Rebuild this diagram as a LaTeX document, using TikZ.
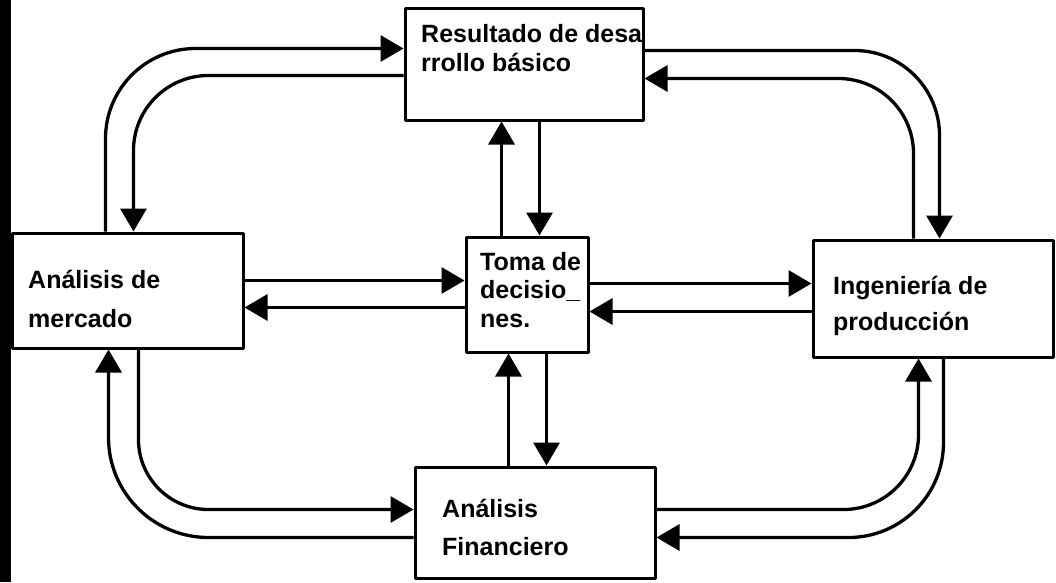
\documentclass[tikz,border=0pt]{standalone}
\usepackage{fontspec}
\setmainfont{Liberation Sans}
\usetikzlibrary{arrows.meta, positioning, calc}

\begin{document}
\begin{tikzpicture}[
  x=1pt, y=1pt,
  box/.style={draw, line width=3pt, inner sep=0pt},
  txt/.style={font=\fontsize{25}{#1}\selectfont\bfseries, align=left, anchor=base west, inner sep=0pt},
  txt/.default=30,
  flow/.style={line width=3.3pt, -{Triangle[length=23pt, width=26pt]}},
  line join=round
]
\useasboundingbox (0,0) rectangle (1056,-582);
\fill (0,0) rectangle (11,-582);

% cajas
\node[box, minimum width=238, minimum height=112] (res) at (524,-64) {};
\node[box, minimum width=231, minimum height=115] (mer) at (127.5,-290.5) {};
\node[box, minimum width=122, minimum height=115] (toma) at (527,-294.5) {};
\node[box, minimum width=240, minimum height=117] (ing) at (933,-298.5) {};
\node[box, minimum width=240, minimum height=111] (fin) at (535,-522.5) {};

% textos (anclados en la linea base de la ultima linea)
\node[txt=29] (resT) at (421,-71) {Resultado de desa\\rrollo básico};
\node[txt=39] (merT) at (28,-327) {Análisis de\\mercado};
\node[txt=28.5] (tomaT) at (480,-327) {Toma de\\decisio\_\\nes.};
\node[txt=36] (ingT) at (833,-330) {Ingeniería de\\producción};
\node[txt=38] (finT) at (442,-555) {Análisis\\Financiero};

% lazos exteriores
\draw[flow, rounded corners=90pt] ([xshift=95pt]mer.north west) |- ([yshift=-42pt]res.north west);
\draw[flow, rounded corners=75pt] ([yshift=-69pt]res.north west) -| ([xshift=123pt]mer.north west);
\draw[flow, rounded corners=85pt] ([yshift=-44pt]res.north east) -| ([xshift=128pt]ing.north west);
\draw[flow, rounded corners=75pt] ([xshift=102pt]ing.north west) |- ([yshift=-72pt]res.north east);
\draw[flow, rounded corners=100pt] ([yshift=42pt]fin.south west) -| ([xshift=98pt]mer.south west);
\draw[flow, rounded corners=70pt] ([xshift=128pt]mer.south west) |- ([yshift=70pt]fin.south west);
\draw[flow, rounded corners=75pt] ([yshift=-44pt]fin.north east) -| ([xshift=107pt]ing.south west);
\draw[flow, rounded corners=95pt] ([xshift=132pt]ing.south west) |- ([yshift=-72pt]fin.north east);

% toma de decisiones
\draw[flow] ([xshift=37pt]toma.north west) -- ([xshift=37pt]toma.north west |- res.south);
\draw[flow] ([xshift=75pt]toma.north west |- res.south) -- ([xshift=75pt]toma.north west);
\draw[flow] ([xshift=44pt]toma.south west |- fin.north) -- ([xshift=44pt]toma.south west);
\draw[flow] ([xshift=82pt]toma.south west) -- ([xshift=82pt]toma.south west |- fin.north);
\draw[flow] ([yshift=-49pt]mer.north east) -- ([yshift=-49pt]mer.north east -| toma.west);
\draw[flow] ([yshift=-76pt]mer.north east -| toma.west) -- ([yshift=-76pt]mer.north east);
\draw[flow] ([yshift=-48pt]toma.north east) -- ([yshift=-48pt]toma.north east -| ing.west);
\draw[flow] ([yshift=-76pt]toma.north east -| ing.west) -- ([yshift=-76pt]toma.north east);
\end{tikzpicture}
\end{document}
